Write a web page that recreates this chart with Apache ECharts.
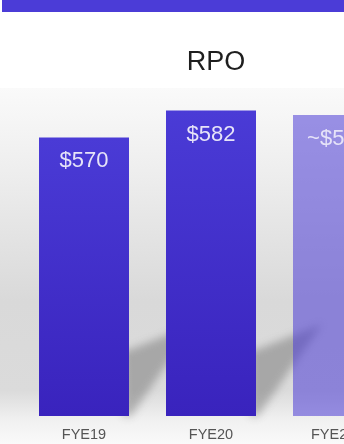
<!DOCTYPE html>
<html>
<head>
<meta charset="utf-8">
<style>
  html, body { margin: 0; padding: 0; background: #ffffff; }
  #chart { width: 344px; height: 444px; }
</style>
<script src="https://cdn.jsdelivr.net/npm/echarts@6/dist/echarts.min.js"></script>
</head>
<body>
<div id="chart"></div>
<script>
// Remaining performance obligations, $ millions, by fiscal year end
const categories = ['FYE19', 'FYE20', 'FYE21E'];
const rpoValues = [570, 582, 580];
const valueLabels = ['$570', '$582', '~$580'];
const isEstimate = [false, false, true];

const AXIS_MIN = 446;
const AXIS_MAX = 592;
const BAR_WIDTH = 90;
const SHADOW_SHIFT = 2000;

const solidFill = new echarts.graphic.LinearGradient(0, 0, 0, 1, [
  { offset: 0, color: '#4a3bd6' },
  { offset: 1, color: '#3923bd' }
]);
const estimateFill = 'rgba(74, 59, 214, 0.55)';

const chart = echarts.init(document.getElementById('chart'), null, { renderer: 'canvas' });

// Soft slanted shadow cast to the right of each bar: the shape itself sits
// off-canvas and only its blurred shadow is shifted back into place.
function renderShadow(params, api) {
  const idx = api.value(0);
  const base = api.coord([idx, AXIS_MIN]);
  const xr = base[0] + BAR_WIDTH / 2 - SHADOW_SHIFT;
  const yb = base[1];
  return {
    type: 'polygon',
    shape: {
      points: [
        [xr - 6, yb],
        [xr + 2, yb],
        [xr + 66, yb - 92],
        [xr, yb - 66],
        [xr - 6, yb - 66]
      ]
    },
    style: {
      fill: '#888888',
      shadowBlur: 9,
      shadowOffsetX: SHADOW_SHIFT,
      shadowColor: 'rgba(95, 95, 95, 0.42)'
    },
    silent: true
  };
}

chart.setOption({
  animation: false,
  backgroundColor: '#ffffff',
  graphic: [
    {
      type: 'rect',
      z: -10,
      shape: { x: 0, y: 88, width: 344, height: 356 },
      style: {
        fill: new echarts.graphic.LinearGradient(0, 0, 0, 1, [
          { offset: 0, color: '#fafafa' },
          { offset: 0.25, color: '#ededed' },
          { offset: 0.6, color: '#d9d9d9' },
          { offset: 0.85, color: '#dbdbdb' },
          { offset: 0.93, color: '#f0f0f0' },
          { offset: 1, color: '#fafafa' }
        ])
      },
      silent: true
    },
    {
      type: 'rect',
      z: -10,
      shape: { x: 2, y: 0, width: 342, height: 12 },
      style: { fill: '#4b3cd7' },
      silent: true
    }
  ],
  title: {
    text: 'RPO',
    left: 211,
    top: 44,
    textAlign: 'center',
    textStyle: {
      fontFamily: 'Liberation Sans, Arial, sans-serif',
      fontSize: 27,
      fontWeight: 'normal',
      color: '#1e1e1e'
    }
  },
  grid: {
    left: 20.5,
    top: 88,
    width: 381,
    height: 328,
    containLabel: false,
    outerBoundsMode: 'none'
  },
  xAxis: {
    type: 'category',
    data: categories,
    axisLine: { show: false },
    axisTick: { show: false },
    axisLabel: {
      margin: 11,
      fontFamily: 'Liberation Sans, Arial, sans-serif',
      fontSize: 14.5,
      color: '#555555'
    }
  },
  yAxis: {
    type: 'value',
    min: AXIS_MIN,
    max: AXIS_MAX,
    show: false,
    splitLine: { show: false }
  },
  series: [
    {
      type: 'custom',
      z: 1,
      clip: false,
      renderItem: renderShadow,
      data: rpoValues.map((v, i) => [i, v])
    },
    {
      type: 'bar',
      z: 2,
      barWidth: BAR_WIDTH,
      data: rpoValues.map((v, i) => ({
        value: v,
        itemStyle: { color: isEstimate[i] ? estimateFill : solidFill }
      })),
      label: {
        show: true,
        position: 'insideTop',
        distance: 13,
        fontFamily: 'Liberation Sans, Arial, sans-serif',
        fontSize: 22,
        color: '#e6e3f8',
        formatter: (p) => valueLabels[p.dataIndex]
      }
    }
  ]
});
</script>
</body>
</html>
